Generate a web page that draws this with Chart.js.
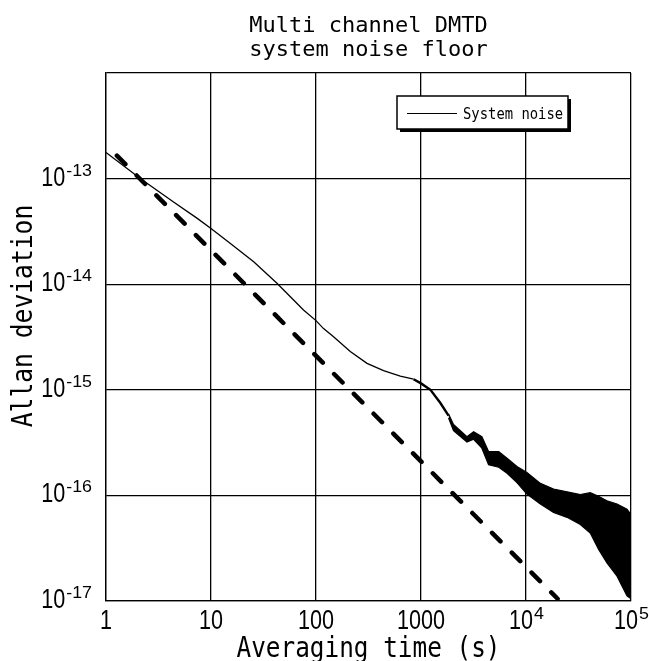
<!DOCTYPE html>
<html lang="en">
<head>
    <meta charset="UTF-8">
    <title>Multi channel DMTD system noise floor</title>
    <script src="https://cdn.jsdelivr.net/npm/chart.js"></script>
    <style>
        body { margin: 0; background: #fff; }
        #wrap { width: 649px; height: 661px; }
    </style>
</head>
<body>
    <div id="wrap"><canvas id="adevChart" width="649" height="661"></canvas></div>

    <script>
        // System noise, thin part of the trace (tau in s, Allan deviation)
        const noiseTau  = [1, 2.12, 4.4, 7.4, 10, 15.3, 25.5, 42.5, 76, 100, 118, 147, 212, 306, 440, 635, 850, 1000, 1230, 1530, 1830];
        const noiseAdev = [1.77e-13, 1.0e-13, 6.0e-14, 4.2e-14, 3.37e-14, 2.43e-14, 1.63e-14, 1.02e-14, 5.7e-15, 4.52e-15, 3.8e-15, 3.18e-15, 2.30e-15, 1.78e-15, 1.52e-15, 1.35e-15, 1.26e-15, 1.15e-15, 1.0e-15, 7.5e-16, 5.7e-16];

        // Noisy part: upper and lower edge of the band
        const bandTau = [1830, 2040, 2740, 3170, 3800, 4400, 5500, 6600, 8200, 10200, 13700, 18300, 24600, 32900, 40900, 49000, 59000, 73600, 91600, 100000];
        const bandHi  = [5.9e-16, 4.7e-16, 3.6e-16, 4.0e-16, 3.6e-16, 2.6e-16, 2.6e-16, 2.25e-16, 1.88e-16, 1.65e-16, 1.3e-16, 1.15e-16, 1.08e-16, 1.02e-16, 1.06e-16, 9.8e-17, 8.9e-17, 8.3e-17, 7.4e-17, 6.6e-17];
        const bandLo  = [5.4e-16, 4.1e-16, 3.2e-16, 3.4e-16, 2.8e-16, 1.95e-16, 1.85e-16, 1.62e-16, 1.32e-16, 1.03e-16, 8.3e-17, 6.9e-17, 6.2e-17, 5.3e-17, 4.4e-17, 3.1e-17, 2.3e-17, 1.72e-17, 1.12e-17, 1.05e-17];

        // Dashed reference slope
        const slopeTau  = [1.27, 20000];
        const slopeAdev = [1.65e-13, 1.05e-17];

        // Axes
        const xTicks = [1, 10, 100, 1000, 1e4, 1e5];
        const xTickBase = ['1', '10', '100', '1000', '10', '10'];
        const xTickExp  = ['', '', '', '', '4', '5'];
        const yTicks = [1e-17, 1e-16, 1e-15, 1e-14, 1e-13, 1e-12];
        const yTickBase = ['10', '10', '10', '10', '10', ''];
        const yTickExp  = ['-17', '-16', '-15', '-14', '-13', ''];

        const titleLines = ['Multi channel DMTD', 'system noise floor'];
        const xTitle = 'Averaging time (s)';
        const yTitle = 'Allan deviation';
        const legendLabel = 'System noise';

        const pts = (xs, ys) => xs.map((x, i) => ({ x: x, y: ys[i] }));

        const MONO = '"DejaVu Sans Mono", "Liberation Mono", monospace';
        const SANS = '"Liberation Sans", Arial, sans-serif';

        // draws text squeezed horizontally by sx, returns drawn width
        function drawText(ctx, text, x, y, font, sx, align) {
            ctx.save();
            ctx.font = font;
            ctx.textAlign = 'left';
            ctx.textBaseline = 'alphabetic';
            const w = ctx.measureText(text).width * sx;
            const x0 = align === 'center' ? x - w / 2 : align === 'right' ? x - w : x;
            ctx.translate(x0, y);
            ctx.scale(sx, 1);
            ctx.fillStyle = '#000';
            ctx.fillText(text, 0, 0);
            ctx.restore();
            return w;
        }

        function textWidth(ctx, text, font, sx) {
            ctx.save();
            ctx.font = font;
            const w = ctx.measureText(text).width * sx;
            ctx.restore();
            return w;
        }

        const decorations = {
            id: 'decorations',
            afterDraw(chart) {
                const ctx = chart.ctx;
                const area = chart.chartArea;
                const xs = chart.scales.x, ys = chart.scales.y;
                const cx = (area.left + area.right) / 2;

                // title
                drawText(ctx, titleLines[0], cx, 32, '22px ' + MONO, 1, 'center');
                drawText(ctx, titleLines[1], cx, 56, '22px ' + MONO, 1, 'center');

                // tick labels
                const baseFont = '27px ' + SANS, bsx = 0.8;
                const expFont = '17px ' + SANS, esx = 1.05;
                xTicks.forEach((v, i) => {
                    const px = xs.getPixelForValue(v);
                    const wb = textWidth(ctx, xTickBase[i], baseFont, bsx);
                    const we = xTickExp[i] ? textWidth(ctx, xTickExp[i], expFont, esx) : 0;
                    const x0 = px - (wb + we) / 2;
                    drawText(ctx, xTickBase[i], x0, 629, baseFont, bsx, 'left');
                    if (we) drawText(ctx, xTickExp[i], x0 + wb + 1, 619, expFont, esx, 'left');
                });
                yTicks.forEach((v, i) => {
                    if (!yTickBase[i]) return;
                    const py = ys.getPixelForValue(v);
                    const we = textWidth(ctx, yTickExp[i], expFont, esx);
                    const right = area.left - 14;
                    drawText(ctx, yTickExp[i], right - we, py - 3, expFont, esx, 'left');
                    drawText(ctx, yTickBase[i], right - we - 1, py + 7, baseFont, bsx, 'right');
                });

                // axis titles
                drawText(ctx, xTitle, cx, 657, '29px ' + MONO, 0.84, 'center');
                ctx.save();
                ctx.translate(32, 316);
                ctx.rotate(-Math.PI / 2);
                drawText(ctx, yTitle, 0, 0, '29px ' + MONO, 0.85, 'center');
                ctx.restore();

                // legend box with shadow
                const bx = 397, by = 96, bw = 171, bh = 33;
                ctx.save();
                ctx.fillStyle = '#000';
                ctx.fillRect(bx + 3, by + 3, bw, bh);
                ctx.fillStyle = '#fff';
                ctx.fillRect(bx, by, bw, bh);
                ctx.strokeStyle = '#000';
                ctx.lineWidth = 1.5;
                ctx.strokeRect(bx, by, bw, bh);
                ctx.lineWidth = 1;
                ctx.beginPath();
                ctx.moveTo(407, 113.5);
                ctx.lineTo(457, 113.5);
                ctx.stroke();
                ctx.restore();
                drawText(ctx, legendLabel, 463, 119, '16.5px ' + MONO, 0.84, 'left');
            }
        };

        const ctx = document.getElementById('adevChart').getContext('2d');
        new Chart(ctx, {
            type: 'line',
            data: {
                datasets: [
                    {
                        label: 'band upper',
                        data: pts(bandTau, bandHi),
                        borderColor: '#000',
                        backgroundColor: '#000',
                        borderWidth: 1.2,
                        pointRadius: 0,
                        fill: '+1'
                    },
                    {
                        label: 'band lower',
                        data: pts(bandTau, bandLo),
                        borderColor: '#000',
                        borderWidth: 1.2,
                        pointRadius: 0,
                        fill: false
                    },
                    {
                        label: legendLabel,
                        data: pts(noiseTau, noiseAdev),
                        borderColor: '#000',
                        borderWidth: 1.3,
                        segment: {
                            borderWidth: c => c.p0.parsed.x >= 850 ? 2.4 : 1.3
                        },
                        pointRadius: 0,
                        fill: false
                    },
                    {
                        label: 'slope',
                        data: pts(slopeTau, slopeAdev),
                        borderColor: '#000',
                        borderWidth: 4.5,
                        borderDash: [12, 16],
                        borderCapStyle: 'round',
                        pointRadius: 0,
                        fill: false
                    }
                ]
            },
            options: {
                responsive: false,
                animation: false,
                devicePixelRatio: 1,
                layout: { padding: { left: 106, right: 18, top: 73, bottom: 60 } },
                plugins: {
                    legend: { display: false },
                    title: { display: false },
                    tooltip: { enabled: false }
                },
                scales: {
                    x: {
                        type: 'logarithmic',
                        min: 1,
                        max: 1e5,
                        afterBuildTicks: (scale) => { scale.ticks = xTicks.map(v => ({ value: v })); },
                        ticks: { display: false },
                        grid: { color: '#000', lineWidth: 1.3, drawTicks: false },
                        border: { color: '#000', width: 1.3 }
                    },
                    y: {
                        type: 'logarithmic',
                        min: 1e-17,
                        max: 1e-12,
                        afterBuildTicks: (scale) => { scale.ticks = yTicks.map(v => ({ value: v })); },
                        ticks: { display: false },
                        grid: { color: '#000', lineWidth: 1.3, drawTicks: false },
                        border: { color: '#000', width: 1.3 }
                    }
                }
            },
            plugins: [decorations]
        });
    </script>
</body>
</html>
